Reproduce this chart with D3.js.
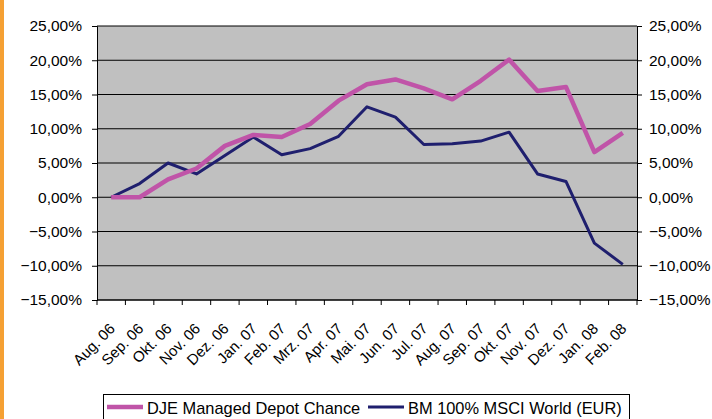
<!DOCTYPE html>
<html lang="en">
<head>
<meta charset="utf-8">
<script src="https://cdn.jsdelivr.net/npm/d3@7"></script>
<style type="text/css">
    body { margin: 0; background: #fff; }
    .axis path, .axis line { fill: none; stroke: black; }
    .axis text { font-family: "Liberation Sans", Arial, sans-serif; font-size: 15.5px; fill: black; }
</style>
</head>
<body>
<script>
    const months = ["Aug. 06", "Sep. 06", "Okt. 06", "Nov. 06", "Dez. 06", "Jan. 07", "Feb. 07",
        "Mrz. 07", "Apr. 07", "Mai. 07", "Jun. 07", "Jul. 07", "Aug. 07", "Sep. 07", "Okt. 07",
        "Nov. 07", "Dez. 07", "Jan. 08", "Feb. 08"];
    const dje = [0, 0, 2.6, 4.2, 7.5, 9.1, 8.8, 10.7, 14.1, 16.5, 17.2, 15.9, 14.3, 17.0, 20.1,
        15.5, 16.1, 6.6, 9.4];
    const msci = [0, 2.0, 5.0, 3.4, 6.1, 8.8, 6.2, 7.1, 8.9, 13.2, 11.7, 7.7, 7.8, 8.2, 9.5,
        3.4, 2.3, -6.7, -9.8];
    const yTicks = [-15, -10, -5, 0, 5, 10, 15, 20, 25];
    const seriesNames = ["DJE Managed Depot Chance", "BM 100% MSCI World (EUR)"];

    let w = 712, h = 419;
    let padL = 97, padR = 637, padT = 26, padB = 300;

    let svg = d3.select("body").append("svg")
        .attr("width", w)
        .attr("height", h);

    // orange stripe on the left edge
    svg.append("rect")
        .attr("x", 0).attr("y", 0)
        .attr("width", 4).attr("height", h)
        .attr("fill", "#f5a033");

    let xScale = d3.scaleBand().domain(months).range([padL, padR]);
    let yScale = d3.scaleLinear().domain([-15, 25]).range([padB, padT]);
    let fmt = (d) => d3.format(".2f")(d).replace(".", ",") + "%";

    svg.append("rect")
        .attr("x", padL).attr("y", padT)
        .attr("width", padR - padL).attr("height", padB - padT)
        .attr("fill", "#c0c0c0");

    svg.selectAll("line.grid")
        .data(yTicks)
        .enter()
        .append("line")
        .attr("class", "grid")
        .attr("x1", padL).attr("x2", padR)
        .attr("y1", (d) => yScale(d)).attr("y2", (d) => yScale(d))
        .attr("stroke", "black")
        .attr("stroke-width", 1);

    let yLeft = d3.axisLeft(yScale).tickValues(yTicks).tickFormat(fmt).tickSize(5).tickPadding(10);
    let yRight = d3.axisRight(yScale).tickValues(yTicks).tickFormat(fmt).tickSize(5).tickPadding(7);

    svg.append("g").attr("class", "axis")
        .attr("transform", "translate(" + padL + ",0)")
        .call(yLeft);
    svg.append("g").attr("class", "axis")
        .attr("transform", "translate(" + padR + ",0)")
        .call(yRight);

    // x axis with ticks on band boundaries
    let xg = svg.append("g").attr("class", "axis");
    xg.append("line")
        .attr("x1", padL).attr("x2", padR)
        .attr("y1", padB).attr("y2", padB)
        .attr("stroke", "black");
    let bounds = months.map((m) => xScale(m)).concat([padR]);
    xg.selectAll("line.tick")
        .data(bounds)
        .enter()
        .append("line")
        .attr("class", "tick")
        .attr("x1", (d) => d).attr("x2", (d) => d)
        .attr("y1", padB).attr("y2", padB + 5)
        .attr("stroke", "black");
    xg.selectAll("text")
        .data(months)
        .enter()
        .append("text")
        .attr("text-anchor", "end")
        .attr("transform", (d) => "translate(" + (xScale(d) + xScale.bandwidth() / 2 + 1) + "," + (padB + 26) + ") rotate(-45)")
        .attr("dy", "0.35em")
        .style("font-size", "15px")
        .text((d) => d);

    let line = d3.line()
        .x((d, i) => xScale(months[i]) + xScale.bandwidth() / 2)
        .y((d) => yScale(d));

    svg.append("path")
        .datum(msci)
        .attr("d", line)
        .attr("fill", "none")
        .attr("stroke", "#1f1f6e")
        .attr("stroke-width", 3)
        .attr("stroke-linejoin", "round");

    svg.append("path")
        .datum(dje)
        .attr("d", line)
        .attr("fill", "none")
        .attr("stroke", "#c054a8")
        .attr("stroke-width", 4.5)
        .attr("stroke-linejoin", "round");

    // legend
    let lg = svg.append("g");
    lg.append("rect")
        .attr("x", 103.5).attr("y", 394.5)
        .attr("width", 526).attr("height", 30)
        .attr("fill", "white")
        .attr("stroke", "black");
    let legendItems = [
        { name: seriesNames[0], color: "#c054a8", x: 107, width: 4.5 },
        { name: seriesNames[1], color: "#1f1f6e", x: 368, width: 3 }
    ];
    legendItems.forEach((d) => {
        lg.append("line")
            .attr("x1", d.x).attr("x2", d.x + 36)
            .attr("y1", 407).attr("y2", 407)
            .attr("stroke", d.color)
            .attr("stroke-width", d.width);
        lg.append("text")
            .attr("x", d.x + 40).attr("y", 414)
            .attr("font-family", "Liberation Sans, Arial, sans-serif")
            .attr("font-size", "16.4px")
            .text(d.name);
    });
</script>
</body>
</html>
